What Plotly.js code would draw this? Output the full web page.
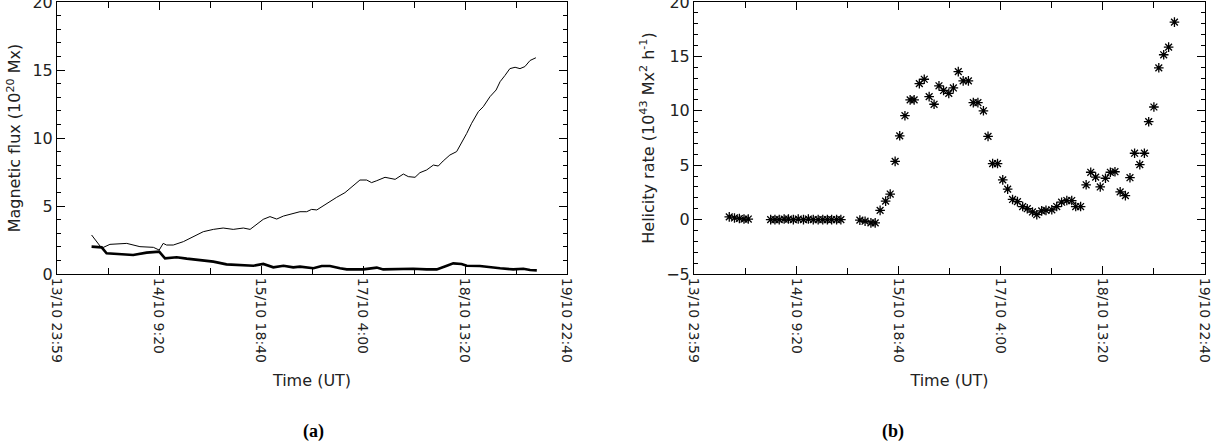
<!DOCTYPE html>
<html>
<head>
<meta charset="utf-8">
<script src="https://cdn.plot.ly/plotly-3.0.1.min.js"></script>
<style>html,body{margin:0;padding:0;background:#fff;}#chart{width:1213px;height:443px;}</style>
</head>
<body>
<div id="chart"></div>
<script>
// Time axis in hours from the first tick (13/10 23:59)
const tickLabels = ["13/10 23:59", "14/10 9:20", "15/10 18:40", "17/10 4:00", "18/10 13:20", "19/10 22:40"];
const tickHours = [0, 33.333, 66.667, 100, 133.333, 166.667];

// Panel (a): magnetic flux (10^20 Mx)
const fluxThinHours = [11.3,14.6,17.3,22.8,27.1,31.5,33.4,34.7,35.8,38.0,41.3,44.5,47.8,51.1,54.3,57.6,60.9,63.1,65.3,67.4,69.6,71.8,74.0,77.2,79.4,81.6,83.2,84.9,88.1,91.4,94.1,96.3,99.0,101.2,102.8,104.5,107.2,110.5,113.2,114.8,117.0,118.6,120.8,123.0,124.6,126.2,128.4,130.6,132.2,133.9,135.5,137.7,139.3,141.5,143.5,144.8,146.4,148.0,149.7,151.3,152.9,154.6,156.5];
const fluxThin = [2.87,1.90,2.18,2.25,2.01,1.96,1.76,2.25,2.13,2.13,2.38,2.74,3.11,3.28,3.38,3.28,3.38,3.28,3.68,4.02,4.22,4.04,4.26,4.46,4.58,4.58,4.75,4.71,5.20,5.64,5.98,6.37,6.91,6.91,6.72,6.86,7.11,6.96,7.35,7.16,7.11,7.45,7.65,8.01,7.94,8.31,8.75,9.00,9.60,10.34,11.08,11.94,12.30,13.04,13.53,14.14,14.60,15.10,15.20,15.10,15.25,15.70,15.90];
const fluxThickHours = [11.3,14.6,16.2,20.6,24.9,29.3,33.4,35.3,39.1,42.4,46.7,51.1,55.4,59.8,64.2,67.4,70.7,74.0,77.2,79.4,83.8,86.5,89.2,92.5,94.7,100.1,104.5,106.6,113.2,116.4,120.8,124.1,127.4,129.5,132.2,133.9,138.2,141.5,144.8,149.1,152.4,154.6,156.8];
const fluxThick = [2.01,1.96,1.52,1.47,1.40,1.57,1.64,1.15,1.23,1.13,1.03,0.91,0.71,0.66,0.61,0.74,0.49,0.61,0.49,0.54,0.42,0.59,0.59,0.42,0.34,0.34,0.47,0.34,0.37,0.39,0.34,0.34,0.61,0.78,0.74,0.61,0.59,0.49,0.42,0.34,0.39,0.29,0.27];

// Panel (b): helicity rate (10^43 Mx^2 h^-1)
const helHours = [11.5,13.2,14.8,16.3,17.7,25.0,26.4,27.8,29.4,30.8,32.4,34.0,35.7,37.3,38.9,40.5,42.0,43.5,44.9,46.5,47.9,54.1,55.8,57.7,59.1,60.7,62.5,64.0,65.6,67.1,68.8,70.5,71.8,73.5,75.1,76.7,78.3,79.9,81.4,83.1,84.6,86.2,87.8,89.5,91.1,92.6,94.4,95.9,97.4,99.0,100.7,102.3,103.9,105.5,107.2,108.7,110.4,111.8,113.4,114.8,116.7,118.3,119.9,121.6,123.2,124.5,126.1,127.9,129.4,131.0,132.5,134.2,135.8,137.3,139.0,140.7,142.2,143.7,145.4,146.9,148.3,150.0,151.6,153.2,154.8,156.7];
const helRate = [0.25,0.15,0.10,0.05,0.05,0,0,0,0.05,0.05,0,0.05,0,0.05,0,0,0,0,0,0,0,-0.05,-0.15,-0.3,-0.3,0.85,1.7,2.35,5.35,7.7,9.55,11.0,11.0,12.5,12.9,11.3,10.6,12.3,11.87,11.6,12.1,13.6,12.75,12.75,10.75,10.75,10.0,7.65,5.15,5.15,3.65,2.8,1.85,1.65,1.2,1.0,0.7,0.45,0.8,0.85,0.9,1.2,1.6,1.75,1.75,1.2,1.2,3.2,4.35,3.9,3.0,3.8,4.35,4.4,2.55,2.2,3.85,6.1,5.05,6.1,9.0,10.35,13.95,15.15,15.85,18.15];

const FONT = "DejaVu Sans, Liberation Sans, sans-serif";
const TXT = "#222";

function xAxis(domain, anchor) {
  return {
    domain: domain, anchor: anchor, range: [0, 166.667],
    tickmode: "array", tickvals: tickHours, ticktext: tickLabels, tickangle: 90,
    ticks: "inside", ticklen: 8, tickcolor: "#000", tickwidth: 1,
    minor: {tickmode: "linear", tick0: 0, dtick: 16.6667, ticks: "inside", ticklen: 6, tickcolor: "#000", tickwidth: 1},
    showline: true, linecolor: "#000", linewidth: 1, mirror: "ticks",
    showgrid: false, zeroline: false, ticklabeloverflow: "allow",
    tickfont: {family: FONT, size: 14, color: TXT},
    title: {text: "Time (UT)", font: {family: FONT, size: 16, color: TXT}, standoff: 12}
  };
}
function yAxis(domain, anchor, range, dtick, title) {
  return {
    domain: domain, anchor: anchor, range: range,
    tickmode: "linear", tick0: 0, dtick: dtick,
    ticks: "inside", ticklen: 8, tickcolor: "#000", tickwidth: 1,
    minor: {tickmode: "linear", tick0: 0, dtick: 1, ticks: "inside", ticklen: 4, tickcolor: "#000", tickwidth: 1},
    showline: true, linecolor: "#000", linewidth: 1, mirror: "ticks",
    showgrid: false, zeroline: false, ticklabeloverflow: "allow",
    tickfont: {family: FONT, size: 16, color: TXT},
    title: {text: title, font: {family: FONT, size: 16, color: TXT}, standoff: 7}
  };
}

const W = 1213, H = 443;
const yDom = [1 - 274 / H, 1 - 2 / H];

const data = [
  {x: fluxThinHours, y: fluxThin, type: "scatter", mode: "lines", line: {color: "#000", width: 1}, xaxis: "x", yaxis: "y", name: "flux 1"},
  {x: fluxThickHours, y: fluxThick, type: "scatter", mode: "lines", line: {color: "#000", width: 2.6}, xaxis: "x", yaxis: "y", name: "flux 2"},
  {x: helHours, y: helRate, type: "scatter", mode: "markers", marker: {symbol: "asterisk-open", size: 8, color: "#000", line: {color: "#000", width: 1.3}}, xaxis: "x2", yaxis: "y2", name: "helicity rate"}
];

const layout = {
  width: W, height: H, showlegend: false,
  margin: {l: 0, r: 0, t: 0, b: 0},
  paper_bgcolor: "#fff", plot_bgcolor: "#fff",
  xaxis: xAxis([57 / W, 567 / W], "y"),
  yaxis: yAxis(yDom, "x", [0, 20], 5, "Magnetic flux (10<sup>20</sup> Mx)"),
  xaxis2: xAxis([694 / W, 1205 / W], "y2"),
  yaxis2: yAxis(yDom, "x2", [-5, 20], 5, "Helicity rate (10<sup>43</sup> Mx<sup>2</sup> h<sup>-1</sup>)"),
  annotations: [
    {text: "<b>(a)</b>", xref: "paper", yref: "paper", x: 313 / W, y: 1 - 431 / H, xanchor: "center", yanchor: "middle", showarrow: false, font: {family: "Liberation Serif, serif", size: 18, color: "#000"}},
    {text: "<b>(b)</b>", xref: "paper", yref: "paper", x: 893 / W, y: 1 - 431 / H, xanchor: "center", yanchor: "middle", showarrow: false, font: {family: "Liberation Serif, serif", size: 18, color: "#000"}}
  ]
};

Plotly.newPlot("chart", data, layout, {displayModeBar: false, staticPlot: true});
</script>
</body>
</html>
